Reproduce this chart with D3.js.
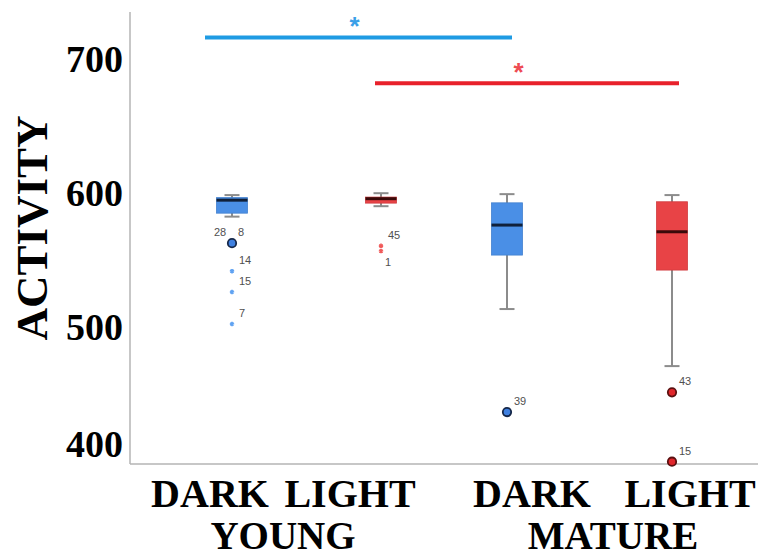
<!DOCTYPE html>
<html>
<head>
<meta charset="utf-8">
<script src="https://cdn.jsdelivr.net/npm/d3@7"></script>
<style>
  body { margin: 0; background: #fff; }
  svg { display: block; }
</style>
</head>
<body>
<div id="chart"></div>
<script>
// box summaries
const groups = ['YOUNG DARK', 'YOUNG LIGHT', 'MATURE DARK', 'MATURE LIGHT']
const whiskerHigh = [599.3, 600.7, 600.0, 599.3]
const q3 = [597.4, 597.8, 593.5, 594.3]
const medians = [595.5, 596.6, 576.9, 571.9]
const q1 = [585.8, 593.3, 554.5, 543.3]
const whiskerLow = [583.2, 591.0, 514.2, 471.6]
const boxColors = ['#4a8fe6', '#e84346', '#4a8fe6', '#e84346']

// outliers: group index, case id, value, kind (o = outlier, x = extreme)
const outGroup = [0, 0, 0, 0, 1, 1, 2, 3, 3]
const outId = ['28 8', '14', '15', '7', '45', '1', '39', '43', '15']
const outValue = [563.4, 542.5, 526.9, 503.0, 561.4, 557.5, 437.3, 452.0, 400.2]
const outKind = ['o', 'x', 'x', 'x', 'x', 'x', 'o', 'o', 'o']

const yTicks = [700, 600, 500, 400]
const xLabels = ['DARK', 'LIGHT', 'DARK', 'LIGHT']
const ageLabels = ['YOUNG', 'MATURE']

// significance bars: from group, to group, level
const sigFrom = [0, 1]
const sigTo = [2, 3]
const sigLevel = [717, 682.8]
const sigColor = ['#1f9be3', '#e8212b']

const width = 758
const height = 558

const svg = d3.select('#chart').append('svg')
    .attr('width', width)
    .attr('height', height)

const y = d3.scaleLinear().domain([398.5, 736]).range([464, 12])
const x = d3.scaleOrdinal().domain(groups).range([232, 381, 507, 672])
const boxW = 31
const capW = 15

// axes
svg.append('line')
    .attr('x1', 130).attr('x2', 130)
    .attr('y1', y(736)).attr('y2', y(398.5))
    .attr('stroke', '#b4b4b4').attr('stroke-width', 1.5)
svg.append('line')
    .attr('x1', 130).attr('x2', width)
    .attr('y1', y(398.5)).attr('y2', y(398.5))
    .attr('stroke', '#b4b4b4').attr('stroke-width', 1.5)

const yAxis = svg.append('g')
    .attr('transform', 'translate(130,0)')
    .call(d3.axisLeft(y).tickValues(yTicks).tickSize(0).tickPadding(7))
yAxis.select('.domain').remove()
yAxis.selectAll('text')
    .attr('font-family', 'Liberation Serif, Times New Roman, serif')
    .attr('font-weight', 'bold')
    .attr('font-size', 38)
    .attr('fill', '#000')
    .attr('dy', (d) => (d === 400 ? '-0.15em' : '0.3em'))

svg.append('text')
    .attr('transform', 'translate(47,228) rotate(-90)')
    .attr('text-anchor', 'middle')
    .attr('font-family', 'Liberation Serif, Times New Roman, serif')
    .attr('font-weight', 'bold')
    .attr('font-size', 45)
    .text('ACTIVITY')

// x labels
const labelX = [210, 350, 532, 690]
svg.append('g')
    .selectAll('text')
    .data(xLabels)
    .enter()
    .append('text')
    .attr('x', (d, i) => labelX[i])
    .attr('y', 507)
    .attr('text-anchor', 'middle')
    .attr('font-family', 'Liberation Serif, Times New Roman, serif')
    .attr('font-weight', 'bold')
    .attr('font-size', 40)
    .text((d) => d)

const ageX = [283, 613]
svg.append('g')
    .selectAll('text')
    .data(ageLabels)
    .enter()
    .append('text')
    .attr('x', (d, i) => ageX[i])
    .attr('y', 549)
    .attr('text-anchor', 'middle')
    .attr('font-family', 'Liberation Serif, Times New Roman, serif')
    .attr('font-weight', 'bold')
    .attr('font-size', 39)
    .text((d) => d)

// boxes
const boxes = svg.append('g')
    .selectAll('g')
    .data(groups)
    .enter()
    .append('g')

boxes.append('line')
    .attr('x1', (d) => x(d)).attr('x2', (d) => x(d))
    .attr('y1', (d, i) => y(whiskerHigh[i]))
    .attr('y2', (d, i) => y(whiskerLow[i]))
    .attr('stroke', '#8c8c8c').attr('stroke-width', 2)

boxes.selectAll('.cap')
    .data((d, i) => [[d, whiskerHigh[i]], [d, whiskerLow[i]]])
    .enter()
    .append('line')
    .attr('class', 'cap')
    .attr('x1', (d) => x(d[0]) - capW / 2)
    .attr('x2', (d) => x(d[0]) + capW / 2)
    .attr('y1', (d) => y(d[1]))
    .attr('y2', (d) => y(d[1]))
    .attr('stroke', '#8c8c8c').attr('stroke-width', 2)

boxes.append('rect')
    .attr('x', (d) => x(d) - boxW / 2)
    .attr('width', boxW)
    .attr('y', (d, i) => y(q3[i]))
    .attr('height', (d, i) => y(q1[i]) - y(q3[i]))
    .attr('fill', (d, i) => boxColors[i])
    .attr('stroke', (d, i) => d3.color(boxColors[i]).darker(0.3))
    .attr('stroke-width', 0.8)

boxes.append('line')
    .attr('x1', (d) => x(d) - boxW / 2)
    .attr('x2', (d) => x(d) + boxW / 2)
    .attr('y1', (d, i) => y(medians[i]))
    .attr('y2', (d, i) => y(medians[i]))
    .attr('stroke', (d, i) => (i % 2 ? '#3a0a0a' : '#10203a'))
    .attr('stroke-width', 3)

// outliers
const outliers = outValue.map((v, i) => ({
    g: groups[outGroup[i]],
    gi: outGroup[i],
    id: outId[i],
    v: v,
    kind: outKind[i],
}))

const pts = svg.append('g')
    .selectAll('g')
    .data(outliers)
    .enter()
    .append('g')
    .attr('transform', (d) => 'translate(' + x(d.g) + ',' + y(d.v) + ')')

pts.filter((d) => d.kind === 'o')
    .append('circle')
    .attr('r', 4.2)
    .attr('fill', (d) => (d.gi % 2 ? '#e0262b' : '#3f80e0'))
    .attr('stroke', (d) => (d.gi % 2 ? '#5a1010' : '#16284a'))
    .attr('stroke-width', 1.8)

pts.filter((d) => d.kind === 'x')
    .append('path')
    .attr('d', d3.symbol(d3.symbolAsterisk, 14))
    .attr('stroke', (d) => (d.gi % 2 ? '#f05a5a' : '#5fa2f2'))
    .attr('stroke-width', 1.6)
    .attr('fill', 'none')

pts.each(function (d) {
    const g = d3.select(this)
    const t = { 'font-family': 'Liberation Sans, Arial, sans-serif', 'font-size': 11, fill: '#505050' }
    let parts
    if (d.id === '28 8') {
        parts = [['28', -18, -7], ['8', 6, -7]]
    } else if (d.id === '1') {
        parts = [['1', 4, 15]]
    } else {
        parts = [[d.id, 7, -7]]
    }
    parts.forEach((p) => {
        const txt = g.append('text').attr('x', p[1]).attr('y', p[2]).text(p[0])
        Object.keys(t).forEach((k) => txt.attr(k, t[k]))
    })
})

// significance bars
const sig = svg.append('g')
    .selectAll('g')
    .data(sigLevel)
    .enter()
    .append('g')

sig.append('line')
    .attr('x1', (d, i) => x(groups[sigFrom[i]]) - (i ? 6 : 27))
    .attr('x2', (d, i) => x(groups[sigTo[i]]) + (i ? 7 : 5))
    .attr('y1', (d) => y(d))
    .attr('y2', (d) => y(d))
    .attr('stroke', (d, i) => sigColor[i])
    .attr('stroke-width', 4)

sig.append('text')
    .attr('x', (d, i) => (x(groups[sigFrom[i]]) + x(groups[sigTo[i]])) / 2 - (i ? 8 : 15))
    .attr('y', (d) => y(d) - 2)
    .attr('text-anchor', 'middle')
    .attr('font-family', 'Liberation Sans, Arial, sans-serif')
    .attr('font-weight', 'bold')
    .attr('font-size', 26)
    .attr('fill', (d, i) => (i ? '#ee4b52' : '#3aa0e8'))
    .text('*')
</script>
</body>
</html>
